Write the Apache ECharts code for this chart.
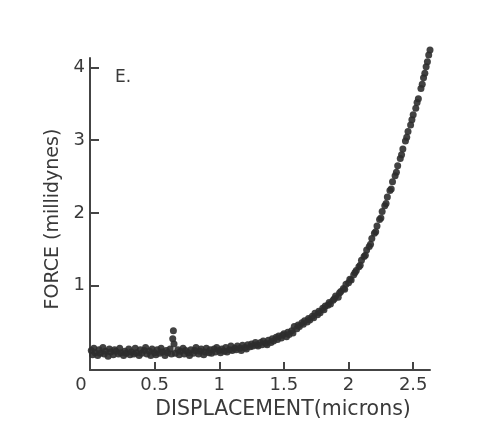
<!DOCTYPE html>
<html>
<head>
<meta charset="utf-8">
<script src="https://cdn.jsdelivr.net/npm/echarts@6/dist/echarts.min.js"></script>
<style>html,body{margin:0;padding:0;background:#fff}#c{width:492px;height:425px}</style>
</head>
<body>
<div id="c"></div>
<script>
var xTicks = [0, 0.5, 1, 1.5, 2, 2.5];
var yTicks = [1, 2, 3, 4];
var displacement = [
  0.01,0.02,0.03,0.04,0.06,0.07,0.08,0.10,0.11,0.12,0.14,0.15,0.16,0.18,0.19,0.20,0.22,0.23,0.24,0.26,
  0.27,0.28,0.30,0.31,0.32,0.34,0.35,0.36,0.38,0.39,0.40,0.42,0.43,0.44,0.46,0.47,0.48,0.50,0.51,0.52,
  0.54,0.55,0.56,0.58,0.59,0.60,0.62,0.63,0.64,0.645,0.65,0.66,0.68,0.69,0.70,0.72,0.73,0.74,0.76,0.77,
  0.78,0.80,0.81,0.82,0.84,0.85,0.86,0.88,0.89,0.90,0.92,0.93,0.94,0.96,0.97,0.98,1.00,1.01,1.02,1.04,
  1.05,1.06,1.08,1.09,1.10,1.12,1.13,1.14,1.16,1.17,1.18,1.20,1.21,1.22,1.24,1.25,1.26,1.28,1.29,1.30,
  1.32,1.33,1.34,1.36,1.37,1.38,1.40,1.41,1.42,1.44,1.45,1.46,1.48,1.49,1.50,1.52,1.53,1.54,1.56,1.57,
  1.58,1.60,1.61,1.62,1.64,1.65,1.66,1.68,1.69,1.70,1.72,1.73,1.74,1.76,1.77,1.78,1.80,1.81,1.82,1.84,
  1.85,1.86,1.88,1.89,1.90,1.92,1.93,1.94,1.96,1.97,1.98,2.00,2.01,2.02,2.04,2.05,2.06,2.08,2.09,2.10,
  2.12,2.13,2.14,2.16,2.17,2.18,2.20,2.21,2.22,2.24,2.25,2.26,2.28,2.29,2.30,2.32,2.33,2.34,2.36,2.37,
  2.38,2.40,2.41,2.42,2.44,2.45,2.46,2.48,2.49,2.50,2.52,2.53,2.54,2.56,2.57,2.58,2.59,2.60,2.61,2.62,2.63
];
var force = [
  0.11,0.05,0.14,0.08,0.04,0.12,0.07,0.15,0.06,0.10,0.03,0.13,0.09,0.05,0.12,0.10,0.06,0.14,0.08,0.04,
  0.10,0.07,0.13,0.05,0.09,0.06,0.14,0.08,0.04,0.12,0.07,0.11,0.15,0.06,0.10,0.04,0.13,0.08,0.05,0.12,
  0.07,0.14,0.09,0.04,0.11,0.08,0.13,0.06,0.27,0.38,0.20,0.07,0.12,0.05,0.10,0.14,0.06,0.11,0.08,0.04,
  0.12,0.07,0.11,0.15,0.06,0.10,0.13,0.05,0.09,0.14,0.08,0.12,0.07,0.13,0.09,0.15,0.11,0.08,0.13,0.10,
  0.15,0.09,0.12,0.17,0.11,0.14,0.12,0.17,0.14,0.11,0.18,0.15,0.13,0.19,0.16,0.20,0.17,0.22,0.19,0.17,
  0.22,0.19,0.24,0.21,0.19,0.25,0.22,0.27,0.24,0.29,0.26,0.31,0.28,0.32,0.34,0.30,0.36,0.33,0.38,0.35,
  0.44,0.41,0.46,0.44,0.49,0.47,0.52,0.50,0.55,0.53,0.58,0.56,0.62,0.60,0.65,0.63,0.69,0.67,0.72,0.73,
  0.77,0.75,0.80,0.82,0.86,0.84,0.90,0.92,0.96,0.95,1.02,1.04,1.09,1.08,1.15,1.18,1.21,1.26,1.28,1.35,
  1.40,1.42,1.49,1.54,1.57,1.65,1.72,1.74,1.82,1.91,1.93,2.02,2.10,2.13,2.22,2.31,2.33,2.43,2.51,2.56,
  2.65,2.75,2.80,2.88,2.99,3.04,3.12,3.21,3.28,3.35,3.44,3.52,3.57,3.71,3.77,3.86,3.92,4.01,4.08,4.17,4.24
];
var points = displacement.map(function (x, i) { return [x, force[i]]; });

var font = 'DejaVu Sans';
var ink = '#3a3a3a';
var chart = echarts.init(document.getElementById('c'), null, {renderer: 'canvas'});
chart.setOption({
  backgroundColor: '#ffffff',
  animation: false,
  title: {
    text: 'E.', left: 110, top: 64,
    textStyle: {fontFamily: font, fontSize: 17, fontWeight: 'normal', color: ink}
  },
  grid: {left: 90, right: 62, top: 58, bottom: 44, containLabel: false},
  xAxis: {
    type: 'value', min: 0, max: 2.63,
    name: 'DISPLACEMENT(microns)', nameLocation: 'middle', nameGap: 25,
    nameTextStyle: {fontFamily: font, fontSize: 20.5, color: ink, padding: [0, 0, 0, 46]},
    axisLine: {onZero: false, lineStyle: {color: '#444', width: 2}},
    axisTick: {inside: true, length: 8, customValues: [0.5, 1, 1.5, 2, 2.5], lineStyle: {color: '#444', width: 2}},
    axisLabel: {
      customValues: xTicks, margin: 6,
      fontFamily: font, fontSize: 18, color: ink,
      formatter: function (v) { return v === 0 ? '{z|0}' : String(v); },
      rich: {z: {fontFamily: font, fontSize: 18, color: ink, padding: [0, 18, 0, 0]}}
    },
    splitLine: {show: false}
  },
  yAxis: {
    type: 'value', min: -0.16, max: 4.13,
    name: 'FORCE (millidynes)', nameLocation: 'middle', nameGap: 17,
    nameTextStyle: {fontFamily: font, fontSize: 19, color: ink, padding: [0, 10, 0, 0]},
    axisLine: {show: true, onZero: false, lineStyle: {color: '#444', width: 2}},
    axisTick: {show: true, inside: true, length: 9, customValues: yTicks, lineStyle: {color: '#444', width: 2}},
    axisLabel: {customValues: yTicks, margin: 5, fontFamily: font, fontSize: 18, color: ink},
    splitLine: {show: false}
  },
  series: [{
    type: 'scatter',
    data: points,
    symbol: 'circle',
    symbolSize: 7,
    clip: false,
    itemStyle: {color: '#2e2e2e', opacity: 0.9}
  }]
});
</script>
</body>
</html>
